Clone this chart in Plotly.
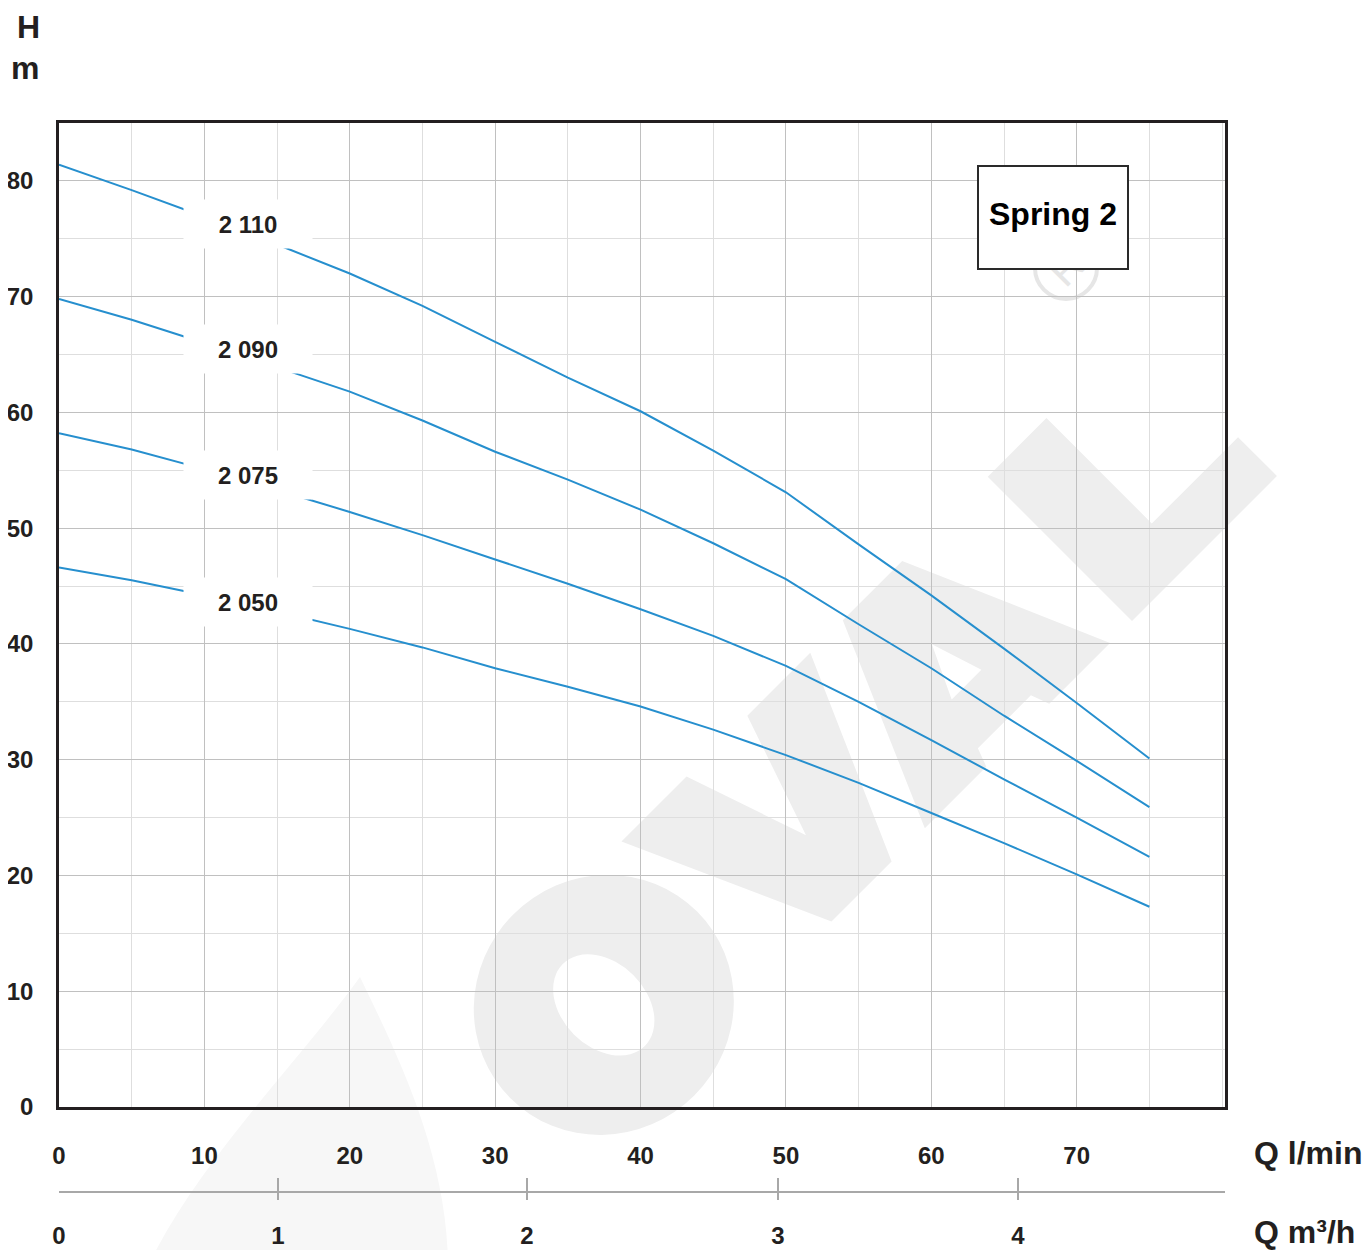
import base64
import plotly.graph_objects as go

# ---------------- data ----------------
q_lmin = [0, 5, 10, 15, 20, 25, 30, 35, 40, 45, 50, 55, 60, 65, 70, 75]
h_2110 = [81.4, 79.2, 76.9, 74.5, 72.0, 69.2, 66.1, 63.0, 60.1, 56.7, 53.1, 48.6, 44.2, 39.6, 34.9, 30.1]
h_2090 = [69.8, 68.0, 66.0, 63.9, 61.8, 59.3, 56.6, 54.2, 51.6, 48.7, 45.6, 41.7, 37.9, 33.8, 29.9, 25.9]
h_2075 = [58.2, 56.8, 55.1, 53.3, 51.4, 49.4, 47.3, 45.2, 43.0, 40.7, 38.1, 35.0, 31.7, 28.3, 25.0, 21.6]
h_2050 = [46.6, 45.5, 44.2, 42.8, 41.3, 39.7, 37.9, 36.3, 34.6, 32.6, 30.4, 28.0, 25.4, 22.8, 20.1, 17.3]

series_names = ["2 110", "2 090", "2 075", "2 050"]
series_values = [h_2110, h_2090, h_2075, h_2050]
label_q = 13.0
label_h = [76.3, 65.5, 54.6, 43.6]

x_ticks = [0, 10, 20, 30, 40, 50, 60, 70]
y_ticks = [0, 10, 20, 30, 40, 50, 60, 70, 80]
x_range = [0, 80.2]
y_range = [0, 85]

# m3/h scale: label positions as drawn on the original (in l/min units)
m3h_labels = ["0", "1", "2", "3", "4", ""]
m3h_pos = [0, 15.06, 32.19, 49.45, 65.96, 80.19]

title_box = "Spring 2"
title_box_q, title_box_h = 68.4, 76.8

# ---------------- layout geometry (page pixels) ----------------
PAGE_W, PAGE_H = 1370, 1250
OFF = 8                                   # default body margin of the html page
FIG_W, FIG_H = PAGE_W - OFF, PAGE_H - OFF
L, R, T, B = 59, 1225, 123, 1192          # plot area incl. m3/h axis (page px)
PLOT_BOTTOM = 1107
PW, PH = R - L, B - T


def px(x):
    return (x - L) / PW


def py(y):
    return (B - y) / PH


TXT = "#231f20"
BLUE = "#268fce"
FONT = "Liberation Sans"

fig = go.Figure()
for name, vals in zip(series_names, series_values):
    fig.add_trace(go.Scatter(x=q_lmin, y=vals, mode="lines", name=name,
                             line=dict(color=BLUE, width=2), showlegend=False,
                             hoverinfo="x+y"))
# invisible carriers so the two m3/h helper axes get drawn
for ax in ("x2", "x3"):
    fig.add_trace(go.Scatter(x=q_lmin, y=h_2050, xaxis=ax, yaxis="y", mode="lines",
                             line=dict(width=0, color="rgba(0,0,0,0)"), opacity=0,
                             showlegend=False, hoverinfo="skip"))

# ---------------- watermark (SVG background image, page px) ----------------
GREY = "#eeeeee"
wm = []
# drop-shaped logo at bottom-left
wm.append('<path d="M360,977 C395,1050 446,1150 448,1262 L150,1262 C200,1160 300,1060 360,977 Z" '
          'fill="#f7f7f7"/>')
# letters O V A L drawn in a rotated letter frame (u right along baseline, v up)
letters = [
    # V
    '<polygon points="-517,205 -425,205 -382,79 -339,205 -250,205 -340,0 -425,0"/>',
    # A (with counter)
    '<path fill-rule="evenodd" d="M-293,0 L-204,205 L-120,205 L-31,0 L-117,0 L-124,19 '
    'L-199,19 L-206,0 Z M-158,125 L-183,72 L-141,72 Z"/>',
    # L
    '<polygon points="0,0 205,0 205,55 83,55 83,204 0,204"/>',
    # O
    '<path fill-rule="evenodd" d="M-777,102 a132,128 0 1,0 264,0 a132,128 0 1,0 -264,0 Z '
    'M-687,102 a42,58 0 1,0 84,0 a42,58 0 1,0 -84,0 Z"/>',
]
wm.append(f'<g transform="translate(1132,621) rotate(-45) scale(1,-1)" fill="{GREY}">'
          + "".join(letters) + '</g>')
wm.append('<circle cx="1066" cy="268" r="31" fill="none" stroke="#e6e6e6" stroke-width="4"/>')
wm.append('<text x="0" y="0" transform="translate(1066,268) rotate(-45)" text-anchor="middle" '
          'dominant-baseline="central" font-family="Liberation Sans, Arial, sans-serif" '
          'font-size="42" fill="#e6e6e6">R</text>')
svg = (f'<svg xmlns="http://www.w3.org/2000/svg" width="{PAGE_W}" height="{PAGE_H}" '
       f'viewBox="0 0 {PAGE_W} {PAGE_H}">' + "".join(wm) + '</svg>')
src = "data:image/svg+xml;base64," + base64.b64encode(svg.encode()).decode()
fig.add_layout_image(dict(source=src, xref="paper", yref="paper", x=px(0), y=py(0),
                          sizex=PAGE_W / PW, sizey=PAGE_H / PH, xanchor="left",
                          yanchor="top", sizing="stretch", layer="below"))

# ---------------- annotations ----------------
ann = []
for name, yh in zip(series_names, label_h):
    ann.append(dict(x=label_q, y=yh, xref="x", yref="y", text=name, showarrow=False,
                    font=dict(family=FONT, size=24, color=TXT, weight="bold"),
                    bgcolor="white", width=128, height=48, borderpad=0))
# framed title box, then its text slightly above the box centre
ann.append(dict(x=title_box_q, y=title_box_h, xref="x", yref="y", text=" ",
                showarrow=False, font=dict(family=FONT, size=32, color="black"),
                bgcolor="white", bordercolor="#2a2a2a", borderwidth=2, borderpad=0,
                width=148, height=101))
ann.append(dict(x=title_box_q, y=title_box_h, xref="x", yref="y", text=title_box,
                showarrow=False, yshift=4,
                font=dict(family=FONT, size=32, color="black", weight="bold")))
big = dict(family=FONT, size=32, color=TXT, weight="bold")
ann.append(dict(x=px(28), y=py(27), xref="paper", yref="paper", text="H", showarrow=False,
                font=big, xanchor="center", yanchor="middle"))
ann.append(dict(x=px(25), y=py(68), xref="paper", yref="paper", text="m", showarrow=False,
                font=big, xanchor="center", yanchor="middle"))
ann.append(dict(x=px(1252), y=py(1153), xref="paper", yref="paper", text="Q l/min",
                showarrow=False, font=big, xanchor="left", yanchor="middle"))
ann.append(dict(x=px(1252), y=py(1232), xref="paper", yref="paper", text="Q m³/h",
                showarrow=False, font=big, xanchor="left", yanchor="middle"))

tickfont = dict(family=FONT, size=24, color=TXT, weight="bold")

fig.update_layout(
    width=FIG_W, height=FIG_H, autosize=False,
    margin=dict(l=L - OFF, r=FIG_W - (R - OFF), t=T - OFF, b=FIG_H - (B - OFF), pad=0,
                autoexpand=False),
    paper_bgcolor="white", plot_bgcolor="rgba(0,0,0,0)",
    annotations=ann,
    xaxis=dict(range=x_range, tickvals=x_ticks, ticks="", ticklabelstandoff=25,
               tickfont=tickfont, showgrid=True, gridcolor="#c0c0c0", gridwidth=1,
               minor=dict(dtick=5, tick0=0, showgrid=True, gridcolor="#dedede", gridwidth=1),
               showline=True, linecolor=TXT, linewidth=2.5, mirror=True,
               zeroline=False, fixedrange=True, automargin=False),
    yaxis=dict(range=y_range, tickvals=y_ticks, ticks="", ticklabelstandoff=18,
               domain=[(B - PLOT_BOTTOM) / PH, 1],
               tickfont=tickfont, showgrid=True, gridcolor="#c0c0c0", gridwidth=1,
               minor=dict(dtick=5, tick0=0, showgrid=True, gridcolor="#dedede", gridwidth=1),
               showline=True, linecolor=TXT, linewidth=2.5, mirror=True,
               zeroline=False, fixedrange=True, automargin=False),
    xaxis2=dict(range=x_range, overlaying="x", anchor="free", position=0, side="bottom",
                tickvals=m3h_pos, ticktext=m3h_labels, ticks="inside", ticklen=13,
                tickwidth=1.5, tickcolor="#a8a8a8", showline=True, linecolor="#a8a8a8",
                linewidth=1.5, showgrid=False, zeroline=False, tickfont=tickfont,
                ticklabelstandoff=22, fixedrange=True, automargin=False),
    xaxis3=dict(range=x_range, overlaying="x", anchor="free", position=0, side="bottom",
                tickvals=m3h_pos[1:-1], ticks="outside", ticklen=7, tickwidth=1.5,
                tickcolor="#a8a8a8", showline=False, showgrid=False, zeroline=False,
                showticklabels=False, fixedrange=True, automargin=False),
)

fig.write_html("out.html")
